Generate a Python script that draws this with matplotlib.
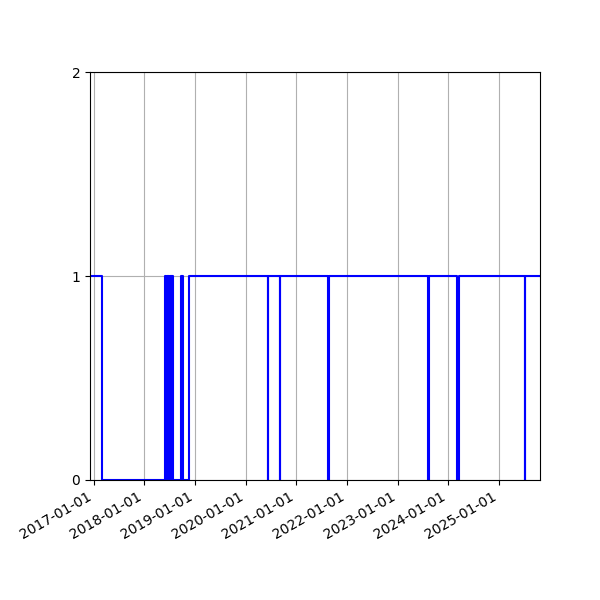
import matplotlib
matplotlib.use("Agg")
import matplotlib.pyplot as plt
import matplotlib.dates as mdates
import pandas as pd

change_dates = [
    "2016-12-06", "2017-03-06",
    "2018-06-02", "2018-06-04", "2018-06-07", "2018-06-09", "2018-06-12",
    "2018-06-14", "2018-06-17", "2018-06-20", "2018-06-22", "2018-06-25",
    "2018-06-28", "2018-06-30", "2018-07-03", "2018-07-06", "2018-07-09",
    "2018-07-12", "2018-07-15", "2018-07-18", "2018-07-21", "2018-07-27",
    "2018-09-25", "2018-10-07", "2018-11-21",
    "2020-06-10", "2020-06-12",
    "2020-09-05", "2020-09-07",
    "2021-08-19", "2021-08-21",
    "2023-08-10", "2023-08-12",
    "2024-03-04", "2024-03-16",
    "2025-07-06", "2025-07-08",
    "2025-10-23",
]
states = [
    1, 0,
    1, 0, 1, 0, 1,
    0, 1, 0, 1, 0,
    1, 0, 1, 0, 1,
    0, 1, 0, 1, 0,
    1, 0, 1,
    0, 1,
    0, 1,
    0, 1,
    0, 1,
    0, 1,
    0, 1,
    1,
]

dates = pd.to_datetime(change_dates)

fig = plt.figure(figsize=(6, 6), dpi=100)
ax = fig.add_subplot(111)
ax.step(dates, states, where="post", color="blue", linewidth=1.5)
ax.set_ylim(0, 2)
ax.set_yticks([0, 1, 2])
ax.set_xlim(dates[0], dates[-1])
ax.xaxis.set_major_locator(mdates.YearLocator())
ax.xaxis.set_major_formatter(mdates.DateFormatter("%Y-%m-%d"))
ax.grid(True)
fig.autofmt_xdate()
fig.subplots_adjust(left=0.15)
fig.savefig("out.png", dpi=100)
